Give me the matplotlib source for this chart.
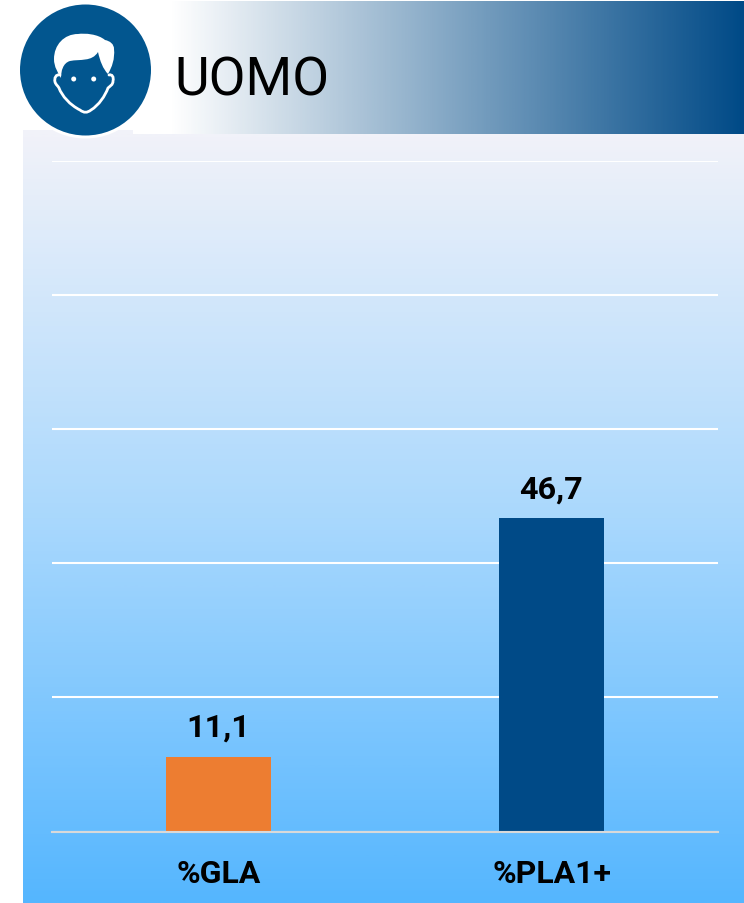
import numpy as np
import matplotlib
matplotlib.use("Agg")
import matplotlib.pyplot as plt
from matplotlib.colors import LinearSegmentedColormap
from matplotlib.patches import Circle, PathPatch, Rectangle
from matplotlib.path import Path

W, H = 744, 904

title = "UOMO"
categories = ["%GLA", "%PLA1+"]
values = [11.1, 46.7]
value_labels = ["11,1", "46,7"]
bar_colors = ["#ed7d31", "#004a87"]
y_ticks = [0, 20, 40, 60, 80, 100]

plt.rcParams["font.family"] = ["Roboto", "DejaVu Sans"]


def bezier_path(start, segments):
    """Path da un punto iniziale e da terne di punti di controllo."""
    verts = [start]
    codes = [Path.MOVETO]
    for seg in segments:
        verts += list(seg)
        codes += [Path.CURVE4] * 3
    return Path(verts, codes)


fig = plt.figure(figsize=(W / 100, H / 100), dpi=100, facecolor="white")

# sfondo e intestazione, in coordinate pixel
bg = fig.add_axes([0, 0, 1, 1])
bg.axis("off")

header = LinearSegmentedColormap.from_list("h", ["#ffffff", "#004a87"])
bg.imshow(np.linspace(0, 1, 600).reshape(1, -1), cmap=header, aspect="auto",
          extent=[170, 744, 135, 2.5], zorder=1)

panel = LinearSegmentedColormap.from_list("p", ["#f1f2f9", "#a9d8fd", "#55b6ff"])
bg.imshow(np.linspace(0, 1, 800).reshape(-1, 1), cmap=panel, aspect="auto",
          extent=[23, 744, 904, 135], zorder=1)
bg.add_patch(Rectangle((23, 131), 110, 4, fc="#f1f2f9", ec="none", zorder=2))
bg.set_xlim(0, W)
bg.set_ylim(H, 0)

# icona
bg.add_patch(Circle((85.5, 71), 68.5, fc="white", ec="none", zorder=3))
bg.add_patch(Circle((85.5, 71), 65.5, fc="#02568f", ec="none", zorder=4))

face = bezier_path((60, 76), [
    [(56, 75), (54, 79), (55, 83)],
    [(56, 86), (58, 87), (59, 89)],
    [(62, 97), (70, 106), (80, 111)],
    [(84, 114), (87, 114), (91, 111)],
    [(99, 106), (105, 97), (108, 89)],
    [(110, 87), (113, 86), (113, 82)],
    [(114, 78), (112, 75), (109, 76)],
])
bg.add_patch(PathPatch(face, fc="none", ec="white", lw=2.0, capstyle="round", zorder=5))
hair = bezier_path((61, 79), [
    [(61, 72), (63, 64), (70, 62)],
    [(80, 60), (92, 63), (98, 53)],
    [(100, 62), (103, 70), (108, 75)],
    [(112, 68), (115, 60), (114, 50)],
    [(114, 45), (110, 42), (105, 41)],
    [(98, 35), (85, 34), (78, 35)],
    [(64, 35), (54, 46), (54, 60)],
    [(54, 68), (58, 74), (61, 79)],
])
bg.add_patch(PathPatch(hair, fc="white", ec="none", zorder=6))
for ex in (73.7, 93.7):
    bg.add_patch(Circle((ex, 80), 2.5, fc="white", ec="none", zorder=6))

bg.text(174, 76, title, fontsize=38.5, color="black", va="center_baseline", ha="left", zorder=6)

# grafico
ax = fig.add_axes([52 / W, 1 - 832.5 / H, (718 - 52) / W, (832.5 - 161.5) / H])
ax.patch.set_alpha(0)
x = np.arange(len(categories))
ax.set_xlim(-0.5, 1.5)
ax.set_ylim(0, 100)
ax.set_yticks(y_ticks)
ax.grid(axis="y", color="white", lw=1.5, zorder=1)
ax.bar(x, values, width=0.316, color=bar_colors, zorder=2)
for xi, v, lab in zip(x, values, value_labels):
    ax.annotate(lab, (xi, v), xytext=(0, 15), textcoords="offset pixels", ha="center", va="bottom",
                fontsize=23.3, fontweight="bold", color="black")
for s in ("top", "left", "right"):
    ax.spines[s].set_visible(False)
ax.spines["bottom"].set_color("#d9d9d9")
ax.spines["bottom"].set_linewidth(1.5)
ax.spines["bottom"].set_zorder(3)
ax.tick_params(axis="both", length=0)
ax.set_yticklabels([])
ax.set_xticks(x)
ax.set_xticklabels(categories, fontsize=23, fontweight="bold", color="black")
ax.tick_params(axis="x", pad=19)

fig.savefig("out.png", dpi=100)
